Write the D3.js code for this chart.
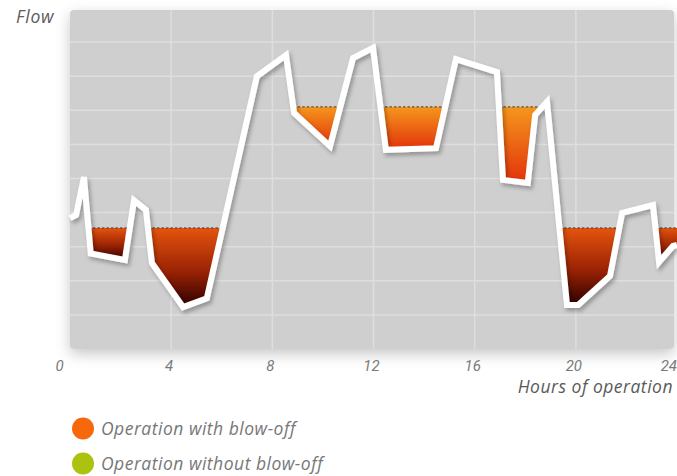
<!DOCTYPE html>
<html><head><meta charset="utf-8">
<script src="https://cdn.jsdelivr.net/npm/d3@7"></script>
<style>
html,body{margin:0;padding:0;background:#fff;}
svg{display:block;}
text{font-family:"Liberation Sans Narrow","Roboto","Liberation Sans",sans-serif;font-style:italic;}
</style></head>
<body>
<svg id="chart" width="677" height="476"></svg>
<script>
// ---- data ----
const hours = [0, 0.24, 0.55, 0.82, 2.17, 2.53, 3.0, 3.24, 4.47, 5.41, 7.39, 8.54, 8.86, 10.28, 11.19, 11.98, 12.49, 14.47, 15.26, 16.88, 17.12, 18.1, 18.39, 18.86, 19.65, 20.09, 21.35, 21.83, 23.05, 23.29, 23.84, 24];
const flow  = [3.84, 3.93, 5.04, 2.80, 2.61, 4.36, 4.08, 2.52, 1.23, 1.49, 8.0, 8.62, 6.92, 5.95, 8.53, 8.83, 5.84, 5.89, 8.50, 8.12, 4.96, 4.87, 6.86, 7.25, 1.29, 1.29, 2.14, 3.99, 4.22, 2.55, 3.02, 3.05];
// blow-off limits: [start hour, end hour, flow level]
const limitStart = [0, 8.5, 19];
const limitEnd   = [8, 18.8, 24];
const limitLevel = [3.55, 7.10, 3.55];
const limitKind  = ["low", "high", "low"];
const xTicks = [0, 4, 8, 12, 16, 20, 24];
const yGrid = [1, 2, 3, 4, 5, 6, 7, 8, 9];
const legendLabels = ["Operation with blow-off", "Operation without blow-off"];
const legendColors = ["#f7680c", "#abc20f"];

const svg = d3.select("#chart");
const x = d3.scaleLinear().domain([0, 24]).range([70, 677]);
const y = d3.scaleLinear().domain([0, 10]).range([349, 8]);

const defs = svg.append("defs");
const sh = defs.append("filter").attr("id", "plotShadow").attr("x", "-10%").attr("y", "-10%").attr("width", "120%").attr("height", "125%");
sh.append("feDropShadow").attr("dx", 0).attr("dy", 5).attr("stdDeviation", 7).attr("flood-color", "#000").attr("flood-opacity", 0.22);
const lsh = defs.append("filter").attr("id", "lineShadow").attr("x", "-10%").attr("y", "-10%").attr("width", "120%").attr("height", "120%");
lsh.append("feDropShadow").attr("dx", 2).attr("dy", 3).attr("stdDeviation", 2).attr("flood-color", "#000").attr("flood-opacity", 0.3);

const gHigh = defs.append("linearGradient").attr("id", "gradHigh").attr("x1", 0).attr("y1", 0).attr("x2", 0).attr("y2", 1);
gHigh.append("stop").attr("offset", "0%").attr("stop-color", "#f5961c");
gHigh.append("stop").attr("offset", "100%").attr("stop-color", "#e2320b");
const gLow = defs.append("linearGradient").attr("id", "gradLow").attr("x1", 0).attr("y1", 0).attr("x2", 0).attr("y2", 1);
gLow.append("stop").attr("offset", "0%").attr("stop-color", "#e4540d");
gLow.append("stop").attr("offset", "55%").attr("stop-color", "#9a2204");
gLow.append("stop").attr("offset", "100%").attr("stop-color", "#2c0000");

// plot background
svg.append("rect").attr("x", x(0)).attr("y", 10).attr("width", 674 - x(0)).attr("height", y(0) - 10)
  .attr("rx", 4).attr("fill", "#cfcfcf").attr("filter", "url(#plotShadow)");

const grid = svg.append("g").attr("stroke", "#dedede").attr("stroke-width", 1.5);
grid.selectAll("line.h").data(yGrid).join("line").attr("class", "h")
  .attr("x1", x(0)).attr("x2", 674).attr("y1", d => y(d)).attr("y2", d => y(d));
grid.selectAll("line.v").data(xTicks.filter(t => t > 0 && t < 24)).join("line").attr("class", "v")
  .attr("x1", d => x(d)).attr("x2", d => x(d)).attr("y1", 10).attr("y2", y(0));

// blow-off areas
const pts = hours.map((h, i) => [h, flow[i]]);
function interp(h) {
  for (let i = 0; i < pts.length - 1; i++) {
    if (h >= pts[i][0] && h <= pts[i + 1][0]) {
      const t = (h - pts[i][0]) / (pts[i + 1][0] - pts[i][0]);
      return pts[i][1] + t * (pts[i + 1][1] - pts[i][1]);
    }
  }
  return pts[pts.length - 1][1];
}
const runs = [];
limitStart.forEach((s, k) => {
  const e = limitEnd[k], L = limitLevel[k];
  const seg = [[s, interp(s)]].concat(pts.filter(p => p[0] > s && p[0] < e), [[e, interp(e)]]);
  let cur = null;
  seg.forEach((p, i) => {
    if (i > 0) {
      const q = seg[i - 1];
      if ((q[1] < L) !== (p[1] < L)) {
        const c = q[0] + (L - q[1]) * (p[0] - q[0]) / (p[1] - q[1]);
        if (cur) { cur.push([c, L]); runs.push({pts: cur, L, kind: limitKind[k]}); cur = null; }
        else cur = [[c, L]];
      }
    }
    if (p[1] < L) { if (!cur) cur = []; cur.push(p); }
  });
  if (cur) runs.push({pts: cur, L, kind: limitKind[k]});
});

const area = d3.area().x(d => x(d[0])).y1(d => y(d[1]));
svg.append("g").selectAll("path").data(runs).join("path")
  .attr("d", r => area.y0(y(r.L))(r.pts))
  .attr("fill", r => r.kind === "high" ? "url(#gradHigh)" : "url(#gradLow)");
svg.append("g").selectAll("line").data(runs).join("line")
  .attr("x1", r => x(r.pts[0][0])).attr("x2", r => x(r.pts[r.pts.length - 1][0]))
  .attr("y1", r => y(r.L)).attr("y2", r => y(r.L))
  .attr("stroke", "#3a3a3a").attr("stroke-width", 1).attr("stroke-dasharray", "2.5,2");

// flow line
const line = d3.line().x(d => x(d[0])).y(d => y(d[1]));
svg.append("path").attr("d", line(pts)).attr("fill", "none").attr("stroke", "#fff")
  .attr("stroke-width", 6).attr("stroke-linejoin", "miter").attr("stroke-miterlimit", 3)
  .attr("filter", "url(#lineShadow)");

// x tick labels
svg.append("g").selectAll("text").data(xTicks).join("text")
  .attr("x", (d, i) => i === 0 ? x(d) - 10.5 : (i === xTicks.length - 1 ? 677 : x(d) - 2)).attr("y", 371)
  .attr("text-anchor", (d, i) => i === xTicks.length - 1 ? "end" : "middle")
  .attr("font-size", 15).attr("fill", "#7a7a7a")
  .text(d => d);

const labelFont = "'Open Sans','Liberation Sans',sans-serif";
svg.append("text").attr("x", 673).attr("y", 393).attr("text-anchor", "end")
  .attr("font-size", 17.5).attr("letter-spacing", 0.5).attr("fill", "#5a5a5a").style("font-family", labelFont).text("Hours of operation");
svg.append("text").attr("x", 16).attr("y", 23)
  .attr("font-size", 17.5).attr("letter-spacing", 0.8).attr("fill", "#5a5a5a").style("font-family", labelFont).text("Flow");

// legend
const leg = svg.append("g").selectAll("g").data(legendLabels).join("g")
  .attr("transform", (d, i) => `translate(83,${428.5 + i * 35})`);
leg.append("circle").attr("r", 11).attr("fill", (d, i) => legendColors[i]);
leg.append("text").attr("x", 18).attr("y", 6).attr("font-size", 17.5).attr("letter-spacing", 0.5).attr("fill", "#777")
  .style("font-family", labelFont).text(d => d);
</script>
</body></html>
